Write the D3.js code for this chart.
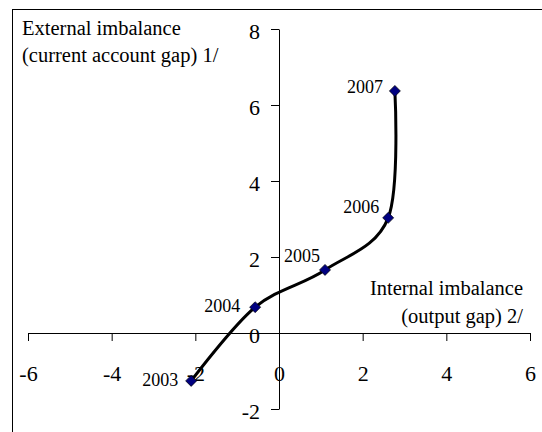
<!DOCTYPE html>
<html>
<head>
<meta charset="utf-8">
<script src="https://cdn.jsdelivr.net/npm/d3@7"></script>
<style>
  body { margin: 0; background: #fff; }
  svg text { font-family: "Liberation Serif", "Times New Roman", serif; fill: #000; }
</style>
</head>
<body>
<div id="chart"></div>
<script>
// chart data
const years = ["2003", "2004", "2005", "2006", "2007"];
const outputGap = [-2.10, -0.57, 1.10, 2.61, 2.77];
const currentAccountGap = [-1.26, 0.68, 1.66, 3.03, 6.37];
const xTicks = [-6, -4, -2, 0, 2, 4, 6];
const yTicks = [-2, 0, 2, 4, 6, 8];

(function () {
  const W = 542, H = 432;
  const serif = '"Liberation Serif", "Times New Roman", serif';

  const svg = d3.select("#chart").append("svg")
    .attr("width", W)
    .attr("height", H)
    .style("display", "block");

  // outer frame (right/bottom edges sit off the picture)
  svg.append("rect")
    .attr("x", 12.5).attr("y", 9.5)
    .attr("width", 540).attr("height", 430)
    .attr("fill", "none")
    .attr("stroke", "#000")
    .attr("stroke-width", 1);

  const x = d3.scaleLinear().domain([-6, 6]).range([28, 530]);
  const y = d3.scaleLinear().domain([-2, 8]).range([409, 29]);

  const x0 = x(0), y0 = y(0);
  const fmt = d => d < 0 ? "-" + Math.abs(d) : String(d);

  // x axis through y = 0
  const gx = svg.append("g")
    .attr("transform", `translate(0,${y0})`)
    .attr("font-family", serif)
    .call(d3.axisBottom(x).tickValues(xTicks).tickSize(8).tickSizeOuter(0).tickFormat(fmt));
  gx.select(".domain").attr("stroke", "#000");
  gx.selectAll(".tick line").attr("stroke", "#000");
  gx.selectAll(".tick text")
    .attr("y", 48).attr("dy", 0)
    .attr("font-size", 22);

  // y axis through x = 0
  const gy = svg.append("g")
    .attr("transform", `translate(${x0},0)`)
    .attr("font-family", serif)
    .call(d3.axisLeft(y).tickValues(yTicks).tickSize(8).tickSizeOuter(0).tickFormat(fmt));
  gy.select(".domain").attr("stroke", "#000");
  gy.selectAll(".tick line").attr("stroke", "#000");
  gy.selectAll(".tick text")
    .attr("x", -19).attr("dy", "0.45em")
    .attr("font-size", 22);

  const pts = years.map((yr, i) => ({ year: yr, gx: outputGap[i], ca: currentAccountGap[i] }));

  const line = d3.line()
    .x(d => x(d.gx))
    .y(d => y(d.ca))
    .curve(d3.curveCardinal.tension(0));

  svg.append("path")
    .datum(pts)
    .attr("fill", "none")
    .attr("stroke", "#000")
    .attr("stroke-width", 3)
    .attr("d", line);

  // diamond markers
  svg.selectAll(".pt")
    .data(pts)
    .join("path")
    .attr("class", "pt")
    .attr("transform", d => `translate(${x(d.gx)},${y(d.ca)})`)
    .attr("d", "M0,-5.5L5.5,0L0,5.5L-5.5,0Z")
    .attr("fill", "#000080")
    .attr("stroke", "#000")
    .attr("stroke-width", 0.7);

  // year labels, placed to the left of each marker
  const labelOffset = {
    "2003": [-13, 5], "2004": [-15, 5], "2005": [-5, -8],
    "2006": [-9, -5], "2007": [-12, 2]
  };
  svg.selectAll(".yr")
    .data(pts)
    .join("text")
    .attr("class", "yr")
    .attr("x", d => x(d.gx) + labelOffset[d.year][0])
    .attr("y", d => y(d.ca) + labelOffset[d.year][1])
    .attr("text-anchor", "end")
    .attr("font-size", 18)
    .text(d => d.year);

  // axis titles
  const yt = svg.append("text").attr("font-size", 20.5);
  yt.append("tspan").attr("x", 22).attr("y", 35).text("External imbalance");
  yt.append("tspan").attr("x", 22).attr("y", 62).text("(current account gap) 1/");

  const xt = svg.append("text").attr("font-size", 20.5).attr("text-anchor", "end");
  xt.append("tspan").attr("x", 523).attr("y", 295).text("Internal imbalance");
  xt.append("tspan").attr("x", 523).attr("y", 323).text("(output gap) 2/");
})();
</script>
</body>
</html>
